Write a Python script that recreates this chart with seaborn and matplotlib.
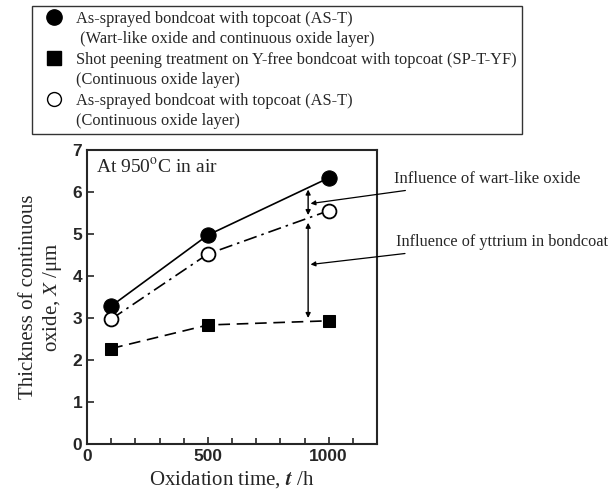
import pandas as pd
import matplotlib
matplotlib.use("Agg")
import matplotlib.pyplot as plt
from matplotlib.lines import Line2D
import seaborn as sns

# data
hours = [100, 500, 1000]
as_t_wart = [3.28, 4.97, 6.33]
as_t_cont = [2.97, 4.52, 5.55]
sp_t_yf = [2.27, 2.83, 2.93]

legend_labels = [
    "As-sprayed bondcoat with topcoat (AS-T)",
    " (Wart-like oxide and continuous oxide layer)",
    "Shot peening treatment on Y-free bondcoat with topcoat (SP-T-YF)",
    "(Continuous oxide layer)",
    "As-sprayed bondcoat with topcoat (AS-T)",
    "(Continuous oxide layer)",
]

sns.set_style("ticks")
plt.rcParams['font.family'] = ['Liberation Serif', 'DejaVu Serif']
plt.rcParams['mathtext.fontset'] = 'stix'

fig = plt.figure(figsize=(6.13, 5.01), dpi=100)
ax = fig.add_axes([0.142, 0.114, 0.473, 0.587])

df = pd.DataFrame({"t": hours, "wart": as_t_wart, "cont": as_t_cont, "yf": sp_t_yf})

sns.lineplot(data=df, x="t", y="wart", ax=ax, color="black", lw=1.2,
             marker="o", markersize=11, markerfacecolor="black", markeredgecolor="black")
sns.lineplot(data=df, x="t", y="cont", ax=ax, color="black", lw=1.2, linestyle=(0, (8, 3, 1.5, 3)),
             marker="o", markersize=10, markerfacecolor="white", markeredgecolor="black", markeredgewidth=1.3)
sns.lineplot(data=df, x="t", y="yf", ax=ax, color="black", lw=1.2, linestyle=(0, (7, 4)),
             marker="s", markersize=9, markerfacecolor="black", markeredgecolor="black")

ax.set_xlim(0, 1200)
ax.set_ylim(0, 7)
ax.set_xticks([0, 500, 1000])
ax.set_xticks(range(0, 1201, 100), minor=True)
ax.set_yticks(range(0, 8))
ax.tick_params(axis="both", which="both", direction="in", width=1.2)
ax.tick_params(axis="both", which="major", length=5, labelsize=12.5)
ax.tick_params(axis="x", which="minor", length=4)
for lab in ax.get_xticklabels() + ax.get_yticklabels():
    lab.set_fontweight("bold")
    lab.set_family("Liberation Sans")
for s in ax.spines.values():
    s.set_linewidth(1.5)
    s.set_visible(True)

ax.set_xlabel("Oxidation time, $\\boldsymbol{t}$ /h", fontsize=15)
ax.set_ylabel("Thickness of continuous\noxide, $X$ /μm", fontsize=15, labelpad=6)
ax.text(0.03, 0.975, "At 950$^\\mathrm{o}$C in air", transform=ax.transAxes,
        ha="left", va="top", fontsize=14)

# vertical double arrows between curves
x_arr = 915
ax.annotate("", xy=(x_arr, 6.12), xytext=(x_arr, 5.38),
            arrowprops=dict(arrowstyle="<|-|>", color="black", lw=1.0, mutation_scale=7))
ax.annotate("", xy=(x_arr, 5.33), xytext=(x_arr, 2.93),
            arrowprops=dict(arrowstyle="<|-|>", color="black", lw=1.0, mutation_scale=7))

# callouts
ax.annotate("Influence of wart-like oxide", xy=(925, 5.72), xytext=(1270, 6.3),
            xycoords="data", textcoords="data", annotation_clip=False,
            fontsize=12, ha="left", va="center",
            arrowprops=dict(arrowstyle="-|>", color="black", lw=0.9, mutation_scale=7,
                            shrinkA=0, shrinkB=0))
ax.annotate("Influence of yttrium in bondcoat", xy=(925, 4.27), xytext=(1278, 4.8),
            xycoords="data", textcoords="data", annotation_clip=False,
            fontsize=11.7, ha="left", va="center",
            arrowprops=dict(arrowstyle="-|>", color="black", lw=0.9, mutation_scale=7,
                            shrinkA=0, shrinkB=0))

blank = Line2D([], [], ls="none", marker="none")
handles = [
    Line2D([], [], ls="none", marker="o", markersize=11, color="black"),
    blank,
    Line2D([], [], ls="none", marker="s", markersize=10, color="black"),
    blank,
    Line2D([], [], ls="none", marker="o", markersize=10, markerfacecolor="white",
           markeredgecolor="black"),
    blank,
]
leg = fig.legend(handles, legend_labels, loc="upper left", bbox_to_anchor=(0.052, 0.988),
                 borderaxespad=0, fontsize=11.8, frameon=True, fancybox=False, edgecolor="black",
                 handletextpad=0.25, labelspacing=0.27, borderpad=0.3, handlelength=2.16)
leg.get_frame().set_linewidth(1.0)

fig.savefig("out.png", dpi=100)
